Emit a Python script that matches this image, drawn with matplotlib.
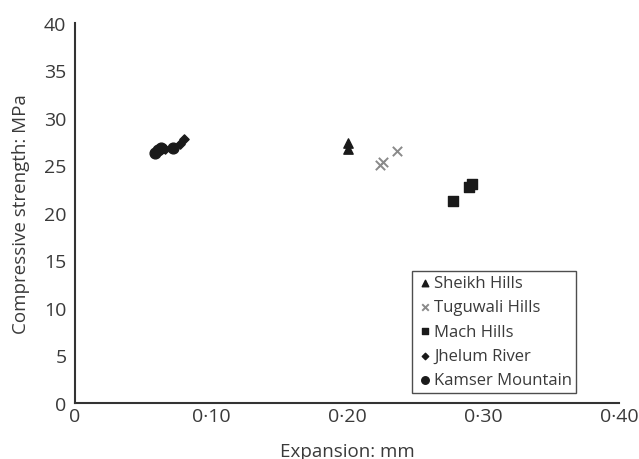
import numpy as np
import matplotlib.pyplot as plt

plt.rcParams['font.family'] = ['Open Sans', 'DejaVu Sans']

# data
sheikh_x = [0.201, 0.201]
sheikh_y = [27.4, 26.7]
tugu_x = [0.224, 0.2265, 0.237]
tugu_y = [25.0, 25.4, 26.5]
mach_x = [0.278, 0.290, 0.292]
mach_y = [21.3, 22.7, 23.0]
jhelum_x = [0.066, 0.077, 0.080]
jhelum_y = [26.7, 27.3, 27.8]
kamser_x = [0.059, 0.061, 0.063, 0.072]
kamser_y = [26.3, 26.6, 26.8, 26.8]

xticks = [0, 0.1, 0.2, 0.3, 0.4]
xlabels = ['0', '0·10', '0·20', '0·30', '0·40']
yticks = [0, 5, 10, 15, 20, 25, 30, 35, 40]

txt = '#3a3a3a'
fig = plt.figure(figsize=(6.39, 4.60), dpi=100)
ax = fig.add_axes([0.117, 0.122, 0.852, 0.826])

ax.scatter(sheikh_x, sheikh_y, marker='^', s=45, color='#1a1a1a', label='Sheikh Hills')
ax.scatter(tugu_x, tugu_y, marker='x', s=45, color='#8a8a8a', linewidths=1.4, label='Tuguwali Hills')
ax.scatter(mach_x, mach_y, marker='s', s=45, color='#1a1a1a', label='Mach Hills')
ax.scatter(jhelum_x, jhelum_y, marker='D', s=22, color='#1a1a1a', label='Jhelum River')
ax.scatter(kamser_x, kamser_y, marker='o', s=60, color='#1a1a1a', label='Kamser Mountain')

ax.set_xlim(0, 0.4)
ax.set_ylim(0, 40)
ax.set_xticks(xticks)
ax.set_xticklabels(xlabels)
ax.set_yticks(yticks)
ax.tick_params(length=0, labelsize=14, labelcolor=txt)
ax.tick_params(axis='x', pad=3)
ax.tick_params(axis='y', pad=6)
for s in ['top', 'right']:
    ax.spines[s].set_visible(False)
for s in ['left', 'bottom']:
    ax.spines[s].set_linewidth(1.5)
    ax.spines[s].set_color('#333333')

ax.set_xlabel('Expansion: mm', fontsize=13.5, color=txt, labelpad=12)
ax.set_ylabel('Compressive strength: MPa', fontsize=13.5, color=txt, labelpad=10)

leg = ax.legend(loc='lower right', bbox_to_anchor=(0.921, 0.027), fontsize=12,
                frameon=True, fancybox=False, edgecolor='#222222',
                handletextpad=0.05, handlelength=1.0, borderpad=0.25,
                labelspacing=0.5, markerscale=0.7, borderaxespad=0)
leg.get_frame().set_linewidth(1.0)
for t in leg.get_texts():
    t.set_color(txt)

fig.savefig('out.png', dpi=100)
